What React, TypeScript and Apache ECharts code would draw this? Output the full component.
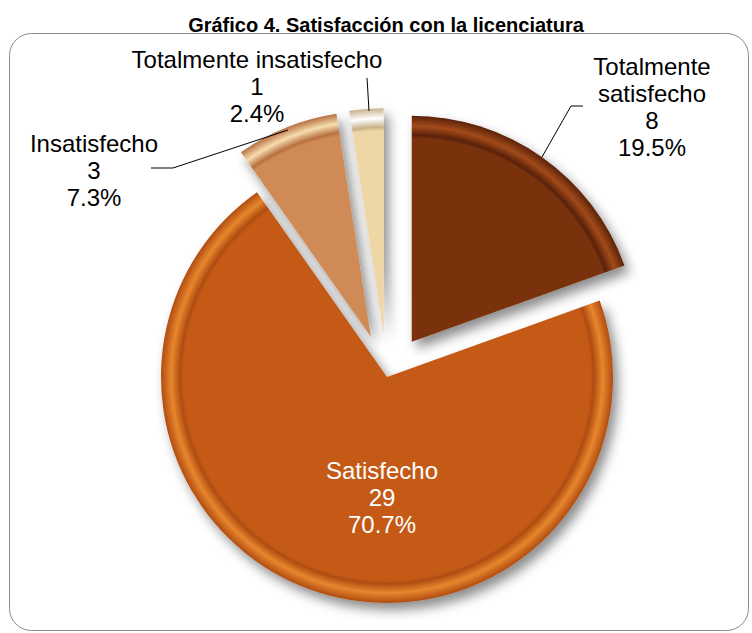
import React, { useEffect, useRef } from "react";
import * as echarts from "echarts";

const categories = ["Totalmente satisfecho", "Satisfecho", "Insatisfecho", "Totalmente insatisfecho"];
const labelNames = ["Totalmente\nsatisfecho", "Satisfecho", "Insatisfecho", "Totalmente insatisfecho"];
const counts = [8, 29, 3, 1];
const exploded = [true, false, true, true];
const faceColors = ["#7a3311", "#c45a18", "#d08a55", "#efd6a6"];
const rimLight = ["#a34a1a", "#e8862e", "#f6ddb0", "#ffffff"];
const rimDark = ["#5a2208", "#b04c10", "#b87040", "#c8b088"];
const titleText = "Gráfico 4. Satisfacción con la licenciatura";

const CX = 387;
const CY = 377;
const R = 226;

// label block centres and leader lines (layout only)
const labelX = [652, 382, 94, 257];
const labelY = [107, 497, 170, 86];
const labelColor = ["#000", "#fff", "#000", "#000"];
const leaderLines: (number[][] | null)[] = [
  [[542, 157], [571, 106], [583, 106]],
  null,
  [[288, 130], [173, 168], [151, 168]],
  [[369, 111], [368, 94], [367, 78]],
];

export default function App() {
  const ref = useRef<HTMLDivElement>(null);
  useEffect(() => {
    const chart = echarts.init(ref.current!, null, { renderer: "svg" });
    const total = counts.reduce((a, b) => a + b, 0);
    const data = categories.map((name, i) => ({
      name,
      value: counts[i],
      selected: exploded[i],
      itemStyle: {
        color: {
          type: "radial",
          x: CX,
          y: CY,
          r: R,
          global: true,
          colorStops: [
            { offset: 0, color: faceColors[i] },
            { offset: 0.9, color: faceColors[i] },
            { offset: 0.915, color: rimDark[i] },
            { offset: 0.955, color: rimLight[i] },
            { offset: 1, color: rimDark[i] },
          ],
        },
      },
    }));
    const labelTexts: any[] = categories.map((_, i) => ({
      type: "text",
      z: 100,
      style: {
        text: labelNames[i] + "\n" + counts[i] + "\n" + ((counts[i] / total) * 100).toFixed(1) + "%",
        x: labelX[i],
        y: labelY[i],
        textAlign: "center",
        textVerticalAlign: "middle",
        fontFamily: "Liberation Sans",
        fontSize: 24,
        lineHeight: 27,
        fill: labelColor[i],
      },
    }));
    const lines: any[] = leaderLines
      .filter((l) => l)
      .map((pts) => ({
        type: "polyline",
        z: 99,
        shape: { points: pts },
        style: { stroke: "#000", lineWidth: 1, fill: "none" },
      }));
    chart.setOption({
      animation: false,
      title: {
        text: titleText,
        left: 381,
        top: 10,
        textAlign: "center",
        textStyle: {
          fontFamily: "Liberation Sans",
          fontSize: 20,
          fontWeight: "bold",
          color: "#000",
        },
      },
      graphic: [
        {
          type: "rect",
          z: -10,
          shape: { x: 9.5, y: 33.5, width: 739, height: 597, r: 22 },
          style: { fill: "none", stroke: "#8a8a8a", lineWidth: 1 },
        },
        ...lines,
        ...labelTexts,
      ],
      series: [
        {
          type: "pie",
          center: [CX, CY],
          radius: R,
          startAngle: 90,
          clockwise: true,
          selectedMode: "multiple",
          selectedOffset: 43,
          avoidLabelOverlap: false,
          emphasis: { disabled: true },
          itemStyle: {
            shadowBlur: 12,
            shadowColor: "rgba(0,0,0,0.45)",
            shadowOffsetX: 5,
            shadowOffsetY: 7,
          },
          label: { show: false },
          labelLine: { show: false },
          data,
        },
      ],
    });
    return () => chart.dispose();
  }, []);
  return (
    <div
      ref={ref}
      style={{ position: "absolute", left: 0, top: 0, width: 752, height: 633, background: "#fff" }}
    />
  );
}
